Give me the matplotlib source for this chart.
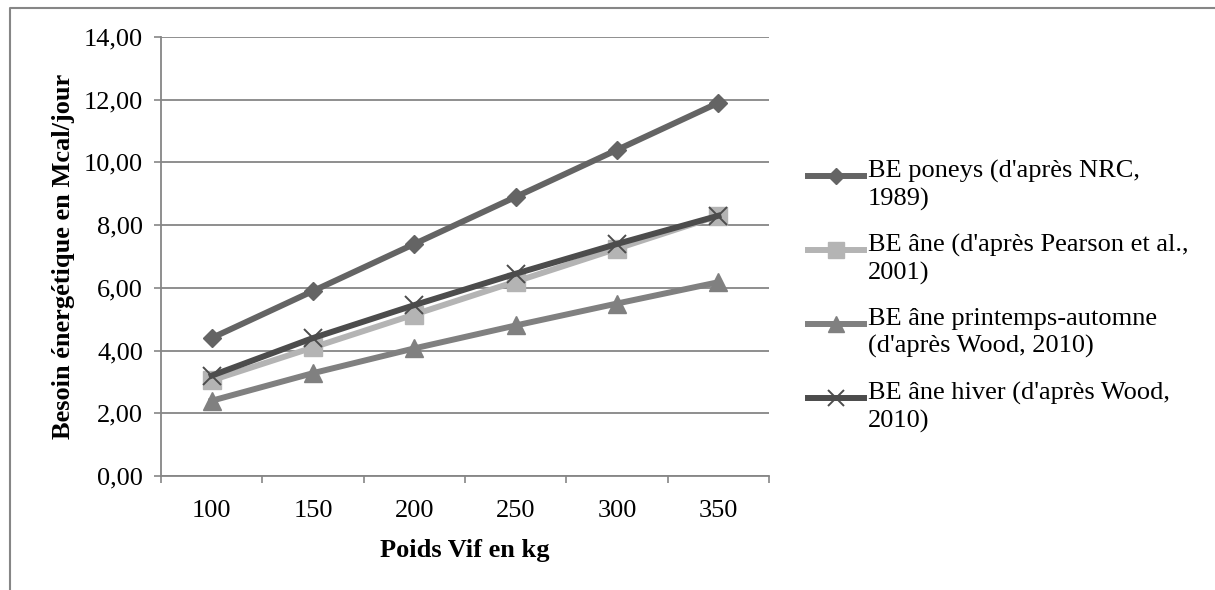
import matplotlib.pyplot as plt
import numpy as np
from matplotlib.lines import Line2D

plt.rcParams['font.family'] = ['Liberation Serif', 'DejaVu Serif']

# poids vif (kg) et besoins energetiques (Mcal/jour)
poids = ['100', '150', '200', '250', '300', '350']
be_poneys = [4.40, 5.90, 7.40, 8.90, 10.40, 11.90]
be_ane_pearson = [3.05, 4.10, 5.15, 6.20, 7.25, 8.30]
be_ane_printemps = [2.40, 3.28, 4.07, 4.80, 5.50, 6.18]
be_ane_hiver = [3.20, 4.40, 5.45, 6.45, 7.40, 8.30]

labels = ["BE poneys (d'après NRC,\n1989)",
          "BE âne (d'après Pearson et al.,\n2001)",
          "BE âne printemps-automne\n(d'après Wood, 2010)",
          "BE âne hiver (d'après Wood,\n2010)"]

grey = '#868686'
fs = 19
W, H = 1215, 590

fig = plt.figure(figsize=(W/100, H/100), dpi=100)
ax = fig.add_axes([161/W, 114/H, 608/W, 439/H])

# style de chaque serie : couleur, marqueur, taille, epaisseur du marqueur
styles = [('#646464', 'D', 9.5, 1.0),
          ('#b4b4b4', 's', 13, 1.0),
          ('#808080', '^', 13, 1.0),
          ('#4c4c4c', 'x', 13, 1.4)]
series = [be_poneys, be_ane_pearson, be_ane_printemps, be_ane_hiver]

x = np.arange(len(poids))
for i, (vals, (c, m, ms, mew)) in enumerate(zip(series, styles)):
    ax.plot(x, vals, color=c, lw=4.3, marker=m, ms=ms, mew=mew,
            zorder=3 + i * 0.1)

ax.set_xlim(-0.5, len(poids) - 0.5)
ax.set_ylim(0, 14)
ax.set_yticks(np.arange(0, 15, 2))
ax.yaxis.set_major_formatter(plt.FuncFormatter(lambda v, p: ('%.2f' % v).replace('.', ',')))
ax.set_xticks(np.arange(-0.5, len(poids), 1))
ax.set_xticklabels([])
ax.set_xticks(x, minor=True)
ax.set_xticklabels(poids, minor=True)
ax.tick_params(axis='x', which='minor', length=0, pad=17.5, labelsize=fs)
ax.tick_params(axis='x', which='major', length=5, color=grey, width=1.2)
ax.tick_params(axis='y', length=5, color=grey, width=1.2, pad=8, labelsize=fs)

ax.grid(axis='y', color=grey, lw=1.3)
ax.set_axisbelow(True)
for s in ['top', 'right']:
    ax.spines[s].set_visible(False)
for s in ['left', 'bottom']:
    ax.spines[s].set_color(grey)
    ax.spines[s].set_linewidth(1.3)

ax.set_xlabel('Poids Vif en kg', fontsize=fs, fontweight='bold', labelpad=12)
ax.set_ylabel('Besoin énergétique en Mcal/jour', fontsize=fs,
              fontweight='bold', labelpad=6)

# legende : le symbole est aligne sur la premiere ligne du libelle
for i, (lab, (c, m, ms, mew)) in enumerate(zip(labels, styles)):
    yl = 1 - (176 + 74 * i) / H
    fig.add_artist(Line2D([808/W, 836/W, 864/W], [yl, yl, yl],
                          transform=fig.transFigure, color=c, lw=4.3,
                          marker=m, ms=ms * 0.85, mew=mew, markevery=[1]))
    fig.text(868/W, 1 - (160 + 74 * i) / H, lab, fontsize=fs,
             va='top', ha='left', linespacing=1.3)

# cadre exterieur du graphique
fig.add_artist(Line2D([10/W, 10/W, 1.0], [0.0, 582/H, 582/H],
                      transform=fig.transFigure, color=grey, lw=1.5))

fig.savefig('out.png', dpi=100)
